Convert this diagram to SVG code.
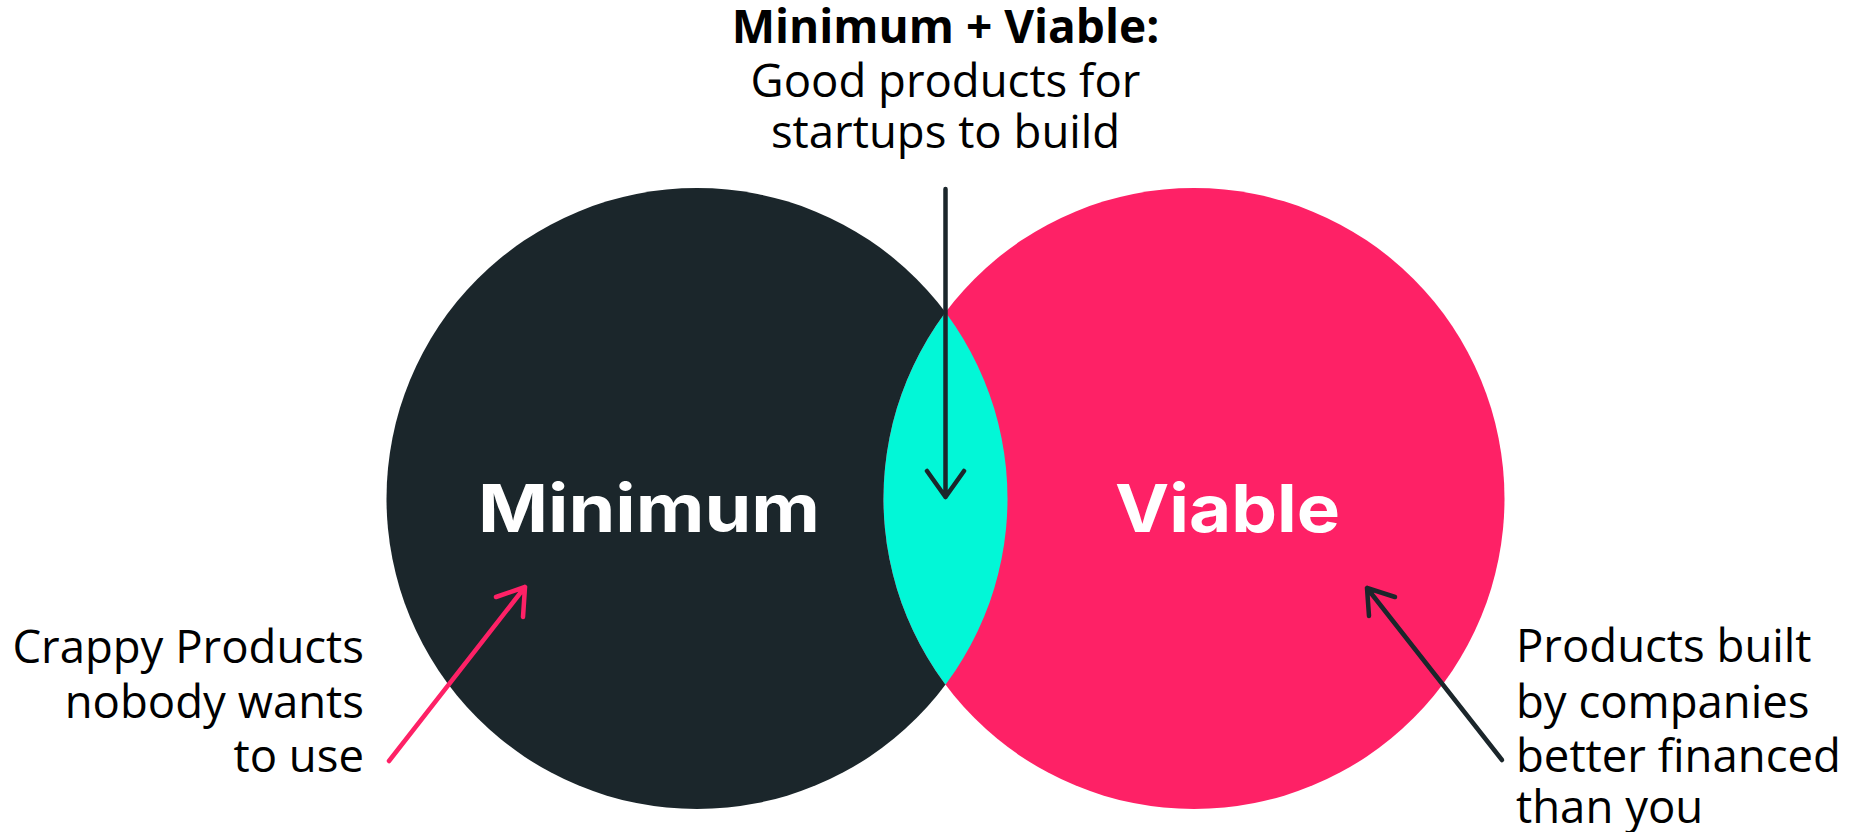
<svg xmlns="http://www.w3.org/2000/svg" width="1854" height="832" viewBox="0 0 1854 832">
  <defs>
    <style>
      .body { font-family: "Open Sans", "Liberation Sans", sans-serif; font-size: 45.5px; fill: #000; }
      .title { font-family: "Open Sans", "Liberation Sans", sans-serif; font-size: 46px; font-weight: 700; fill: #000; }
      .big { font-family: Inter, "Open Sans", sans-serif; font-size: 66px; font-weight: 700; fill: #fff; }
      .arrow { fill: none; stroke-width: 4.5; stroke-linecap: round; stroke-linejoin: round; }
    </style>
    <clipPath id="leftClip">
      <circle cx="697" cy="498.5" r="310.5"/>
    </clipPath>
  </defs>
  <rect width="1854" height="832" fill="#fff"/>

  <g id="minimum">
    <circle cx="697" cy="498.5" r="310.5" fill="#1b262b"/>
  </g>
  <g id="viable">
    <circle cx="1194" cy="498.5" r="310.5" fill="#fe2166"/>
  </g>
  <g id="overlap">
    <circle cx="1194" cy="498.5" r="310.5" fill="#02f7d7" clip-path="url(#leftClip)"/>
  </g>

  <g id="labels">
    <text class="big" x="478" y="532" textLength="342" lengthAdjust="spacingAndGlyphs">Minimum</text>
    <text class="big" x="1115" y="532" textLength="225" lengthAdjust="spacingAndGlyphs">Viable</text>
  </g>

  <g id="title" text-anchor="middle">
    <text class="title" x="945.5" y="43">Minimum + Viable:</text>
    <text class="body" x="945.5" y="97">Good products for</text>
    <text class="body" x="945.5" y="148">startups to build</text>
  </g>

  <g id="left-note" text-anchor="end">
    <text class="body" x="364" y="663">Crappy Products</text>
    <text class="body" x="364" y="718">nobody wants</text>
    <text class="body" x="364" y="772">to use</text>
  </g>

  <g id="right-note">
    <text class="body" x="1516" y="662">Products built</text>
    <text class="body" x="1516" y="718">by companies</text>
    <text class="body" x="1516" y="772">better financed</text>
    <text class="body" x="1516" y="823">than you</text>
  </g>

  <g id="connectors">
    <!-- center: from heading down into the overlap -->
    <path class="arrow" stroke="#1b262b" d="M945.5 189 V497 M927 471 L945.5 497 L964 471"/>
    <!-- left: pink pointer into the dark circle -->
    <path class="arrow" stroke="#fe2166" d="M389 761 L525 587 M496 597 L525 587 L523 617"/>
    <!-- right: dark pointer into the pink circle -->
    <path class="arrow" stroke="#1b262b" d="M1502 760 L1367 588 M1395 597 L1367 588 L1369 616"/>
  </g>
</svg>
